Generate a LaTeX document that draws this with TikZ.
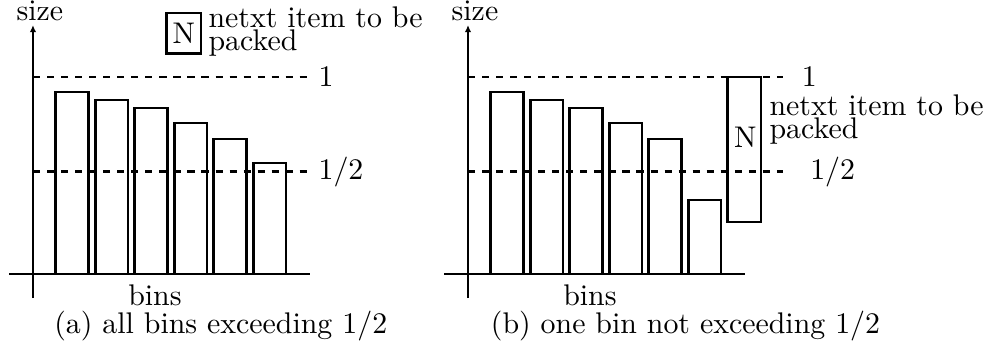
\documentclass[tikz,border=0pt]{standalone}
\usetikzlibrary{arrows.meta}
\begin{document}
\begin{tikzpicture}[
  axis/.style={line width=0.7pt},
  bar/.style={line width=0.9pt},
  level/.style={dash pattern=on 2.4pt off 2.3pt, line width=0.7pt},
  halflevel/.style={level, line width=1.2pt},
  lbl/.style={inner sep=0pt}
]
\useasboundingbox (-0.388,-1.035) rectangle (11.424,3.224);
% (a) all bins above one half
\begin{scope}
\draw[axis] (-0.282,0) -- (3.259,0);
\draw[axis,-{Latex[length=2.4pt,width=2.2pt]}] (0,-0.282) -- (0,2.929);
\node[lbl, anchor=base] (sizeA) at (0.082,2.988) {size};
\draw[level] (0,2.321) -- (3.259,2.321);
\draw[halflevel] (0,1.204) -- (3.259,1.204);
\node[lbl, anchor=west] (oneA) at (3.353,2.321) {1};
\node[lbl, anchor=west] (halfA) at (3.353,1.204) {$1/2$};
\foreach \i/\h in {0/2.141,1/2.047,2/1.953,3/1.776,4/1.588,5/1.306}
  \draw[bar] (0.267+\i*0.4647,0) rectangle ++(0.385,\h);
\node[draw, line width=0.9pt, inner xsep=2pt] (nboxA) at (1.776,2.835) {N};
\node[lbl, anchor=base west, align=left] (nextA) at (2.059,2.632) {netxt item to be\\[-4.3pt]packed};
\node[lbl, anchor=base] (binsA) at (1.435,-0.365) {bins};
\node[lbl, anchor=base] (capA) at (2.209,-0.694) {(a) all bins exceeding $1/2$};
\end{scope}
% (b) one bin below one half
\begin{scope}[xshift=5.118cm]
\draw[axis] (-0.282,0) -- (3.259,0);
\draw[axis,-{Latex[length=2.4pt,width=2.2pt]}] (0,-0.282) -- (0,2.929);
\node[lbl, anchor=base] (sizeB) at (0.082,2.988) {size};
\draw[level] (0,2.321) -- (3.706,2.321);
\draw[halflevel] (0,1.204) -- (3.706,1.204);
\node[lbl, anchor=west] (oneB) at (3.922,2.321) {1};
\node[lbl, anchor=west] (halfB) at (4.02,1.204) {$1/2$};
\foreach \i/\h in {0/2.141,1/2.047,2/1.953,3/1.776,4/1.588,5/0.871}
  \draw[bar] (0.267+\i*0.4647,0) rectangle ++(0.385,\h);
\draw[bar, line width=0.8pt] (3.055,0.615) rectangle (3.444,2.321);
\node[lbl] (nB) at (3.262,1.606) {N};
\node[lbl, anchor=base west, align=left] (nextB) at (3.541,1.595) {netxt item to be\\[-4.3pt]packed};
\node[lbl, anchor=base] (binsB) at (1.435,-0.365) {bins};
\node[lbl, anchor=base] (capB) at (2.559,-0.694) {(b) one bin not exceeding $1/2$};
\end{scope}
\end{tikzpicture}
\end{document}
